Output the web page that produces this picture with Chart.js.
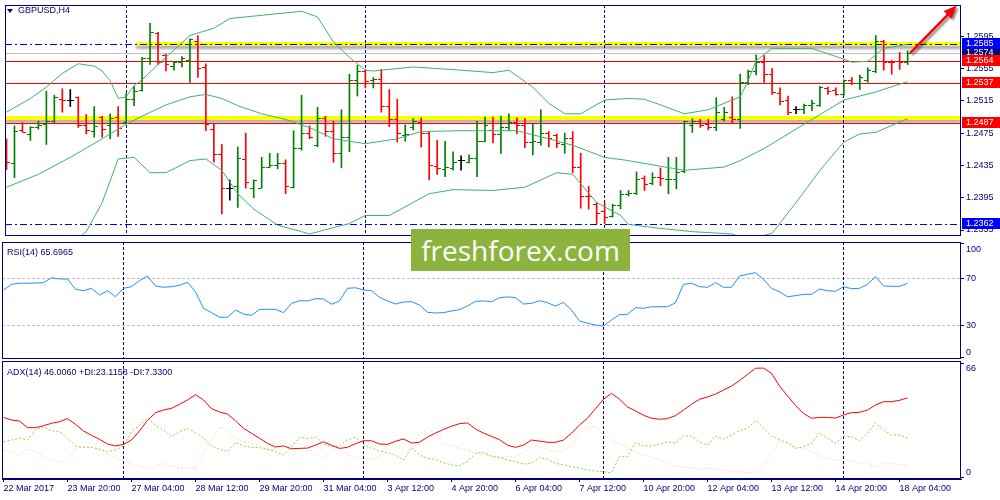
<!DOCTYPE html>
<html><head><meta charset="utf-8">
<script src="https://cdn.jsdelivr.net/npm/chart.js@4.4.1/dist/chart.umd.min.js"></script>
<style>
html,body{margin:0;padding:0;background:#fff;}
body{width:1000px;height:500px;position:relative;overflow:hidden;}
canvas{position:absolute;left:0;}
.t{position:absolute;font-family:"Liberation Sans",Arial,sans-serif;font-size:9px;line-height:10px;color:#000080;white-space:nowrap;}
#tri{position:absolute;left:7px;top:9px;width:0;height:0;border-left:3px solid transparent;border-right:3px solid transparent;border-top:4px solid #000080;}
#wm{position:absolute;left:411px;top:229px;width:219px;height:42px;background:#8db33f;color:#fff;font-family:"Open Sans",sans-serif;font-size:28px;line-height:42px;text-align:center;}
</style></head><body>
<canvas id="cMain" width="1000" height="241" style="top:0;width:1000px;height:241px"></canvas>
<canvas id="cRsi" width="1000" height="119" style="top:241px;width:1000px;height:119px"></canvas>
<canvas id="cAdx" width="1000" height="139" style="top:361px;width:1000px;height:139px"></canvas>
<div id="tri"></div>
<div class="t" style="left:18px;top:5px">GBPUSD,H4</div>
<div class="t" style="left:7px;top:247px">RSI(14) 65.6965</div>
<div class="t" style="left:7px;top:367px">ADX(14) 46.0060 +DI:23.1158 -DI:7.3300</div>
<div id="wm">freshforex.com</div>
<script>
// ---------------- DATA ----------------
const xTickIndex = [0, 8, 16, 24, 32, 40, 48, 56, 64, 72, 80, 88, 96, 104, 112];
const xTickLabels = ['22 Mar 2017','23 Mar 20:00','27 Mar 04:00','28 Mar 12:00','29 Mar 20:00','31 Mar 04:00','3 Apr 12:00','4 Apr 20:00','6 Apr 04:00','7 Apr 12:00','10 Apr 20:00','12 Apr 04:00','13 Apr 12:00','14 Apr 20:00','18 Apr 04:00'];
const weekSeparators = [15, 45, 75, 105];

const opens = [1.2462,1.2438,1.2478,1.2473,1.2482,1.2486,1.2490,1.2517,1.2516,1.2519,
1.2484,1.2477,1.2494,1.2485,1.2495,1.2488,1.2517,1.2528,1.2567,1.2599,
1.2571,1.2557,1.2563,1.2565,1.2589,1.2556,1.2480,1.2449,1.2406,1.2409,
1.2442,1.2407,1.2407,1.2433,1.2435,1.2437,1.2408,1.2456,1.2474,1.2460,
1.2493,1.2477,1.2450,1.2469,1.2540,1.2552,1.2540,1.2542,1.2508,1.2492,
1.2472,1.2482,1.2488,1.2474,1.2434,1.2430,1.2431,1.2441,1.2439,1.2444,
1.2465,1.2478,1.2473,1.2482,1.2488,1.2485,1.2463,1.2464,1.2475,1.2472,
1.2461,1.2468,1.2432,1.2397,1.2386,1.2378,1.2372,1.2385,1.2399,1.2400,
1.2419,1.2413,1.2420,1.2417,1.2418,1.2427,1.2485,1.2490,1.2486,1.2482,
1.2492,1.2494,1.2492,1.2538,1.2552,1.2563,1.2548,1.2524,1.2516,1.2504,
1.2504,1.2509,1.2509,1.2530,1.2528,1.2523,1.2540,1.2536,1.2540,1.2552,
1.2588,1.2563,1.2564,1.2562];
const highs = [1.2468,1.2484,1.2488,1.2483,1.2490,1.2527,1.2522,1.2530,1.2529,1.2520,
1.2498,1.2508,1.2496,1.2499,1.2508,1.2524,1.2533,1.2569,1.2611,1.2600,
1.2573,1.2563,1.2570,1.2592,1.2596,1.2561,1.2486,1.2461,1.2417,1.2458,
1.2475,1.2417,1.2445,1.2450,1.2450,1.2442,1.2478,1.2522,1.2484,1.2507,
1.2496,1.2490,1.2504,1.2548,1.2559,1.2554,1.2544,1.2554,1.2529,1.2517,
1.2485,1.2493,1.2494,1.2477,1.2466,1.2465,1.2452,1.2447,1.2448,1.2490,
1.2495,1.2495,1.2496,1.2499,1.2494,1.2493,1.2486,1.2504,1.2477,1.2474,
1.2475,1.2477,1.2450,1.2409,1.2389,1.2389,1.2387,1.2404,1.2404,1.2427,
1.2422,1.2426,1.2432,1.2445,1.2445,1.2490,1.2493,1.2492,1.2492,1.2519,
1.2507,1.2520,1.2548,1.2553,1.2572,1.2571,1.2555,1.2531,1.2521,1.2508,
1.2511,1.2516,1.2533,1.2532,1.2531,1.2541,1.2544,1.2547,1.2556,1.2596,
1.2590,1.2565,1.2575,1.2577];
const lows = [1.2430,1.2420,1.2476,1.2466,1.2480,1.2461,1.2488,1.2501,1.2508,1.2482,
1.2474,1.2470,1.2470,1.2468,1.2471,1.2487,1.2509,1.2527,1.2560,1.2560,
1.2552,1.2553,1.2557,1.2538,1.2544,1.2478,1.2439,1.2375,1.2392,1.2383,
1.2407,1.2395,1.2407,1.2432,1.2431,1.2400,1.2407,1.2454,1.2468,1.2458,
1.2471,1.2439,1.2432,1.2452,1.2521,1.2531,1.2531,1.2501,1.2483,1.2464,
1.2465,1.2479,1.2458,1.2417,1.2424,1.2421,1.2429,1.2429,1.2438,1.2421,
1.2464,1.2463,1.2450,1.2478,1.2474,1.2457,1.2448,1.2460,1.2458,1.2457,
1.2450,1.2426,1.2382,1.2381,1.2363,1.2363,1.2371,1.2381,1.2397,1.2399,
1.2404,1.2411,1.2410,1.2400,1.2406,1.2426,1.2476,1.2482,1.2479,1.2478,
1.2490,1.2488,1.2481,1.2535,1.2547,1.2538,1.2523,1.2510,1.2498,1.2499,
1.2499,1.2503,1.2508,1.2523,1.2522,1.2522,1.2535,1.2529,1.2538,1.2550,
1.2553,1.2548,1.2554,1.2560];
const closes = [1.2439,1.2477,1.2476,1.2482,1.2485,1.2489,1.2519,1.2516,1.2516,1.2485,
1.2478,1.2483,1.2480,1.2493,1.2481,1.2517,1.2527,1.2568,1.2600,1.2563,
1.2560,1.2562,1.2568,1.2591,1.2555,1.2486,1.2449,1.2406,1.2406,1.2444,
1.2414,1.2416,1.2433,1.2435,1.2437,1.2409,1.2456,1.2474,1.2470,1.2493,
1.2477,1.2450,1.2469,1.2540,1.2552,1.2539,1.2541,1.2508,1.2492,1.2475,
1.2473,1.2490,1.2474,1.2435,1.2431,1.2432,1.2439,1.2441,1.2443,1.2465,
1.2484,1.2473,1.2482,1.2488,1.2485,1.2463,1.2465,1.2475,1.2468,1.2462,
1.2468,1.2432,1.2397,1.2396,1.2375,1.2371,1.2385,1.2399,1.2400,1.2418,
1.2412,1.2420,1.2419,1.2418,1.2426,1.2490,1.2490,1.2484,1.2482,1.2501,
1.2501,1.2492,1.2538,1.2552,1.2563,1.2548,1.2525,1.2514,1.2500,1.2504,
1.2509,1.2512,1.2531,1.2526,1.2523,1.2540,1.2537,1.2544,1.2553,1.2588,
1.2563,1.2562,1.2562,1.2574];

const bbUpperIdx = [0,3,5,7,9,11,12,13,14,15,16,17,19,21,23,26,28,32,37,39,41,43,45,46,51,57,61,63,66,68,70,72,75,78,80,82,85,88,92,93,94,96,101,104,106,108,110,113];
const bbUpper = [1.2501,1.2518,1.2532,1.2549,1.2561,1.2558,1.2552,1.2540,1.2518,1.2520,1.2534,1.2541,1.2560,1.2578,1.2596,1.2605,1.2617,1.2621,1.2626,1.2619,1.2588,1.2569,1.2553,1.2552,1.2557,1.2553,1.2550,1.2553,1.2532,1.2512,1.2499,1.2499,1.2516,1.2518,1.2517,1.2510,1.2499,1.2504,1.2520,1.2540,1.2565,1.2580,1.2580,1.2570,1.2563,1.2564,1.2580,1.2585];
const bbMiddleIdx = [0,4,8,12,15,17,20,23,25,27,29,32,35,38,41,45,49,52,57,64,68,71,75,78,82,85,90,92,95,99,102,105,109,113];
const bbMiddle = [1.2408,1.2424,1.2445,1.2468,1.2486,1.2496,1.2510,1.2520,1.2523,1.2518,1.2509,1.2499,1.2492,1.2482,1.2468,1.2462,1.2468,1.2477,1.2478,1.2478,1.2468,1.2460,1.2445,1.2441,1.2434,1.2429,1.2433,1.2441,1.2456,1.2480,1.2498,1.2516,1.2526,1.2539];
const bbLowerIdx = [0,5,8,10,12,14,16,18,20,23,25,27,29,31,34,37,38,41,43,45,48,53,56,61,65,69,71,74,77,78,82,86,91,93,96,99,102,105,107,109,113];
const bbLower = [1.2316,1.2330,1.2336,1.2353,1.2389,1.2443,1.2445,1.2426,1.2426,1.2441,1.2443,1.2429,1.2400,1.2381,1.2361,1.2353,1.2350,1.2358,1.2363,1.2373,1.2373,1.2400,1.2405,1.2404,1.2408,1.2426,1.2424,1.2389,1.2373,1.2362,1.2357,1.2353,1.2350,1.2343,1.2351,1.2389,1.2429,1.2464,1.2474,1.2476,1.2493];

const rsi = [60.1,64.9,65.8,65.8,66.0,66.3,70.5,69.4,69.4,60.7,
59.5,61.5,55.8,59.5,54.4,61.5,62.9,68.0,71.9,63.5,
62.4,62.9,64.1,66.6,58.6,44.6,40.9,37.0,37.0,43.1,
39.7,38.6,43.7,43.7,43.7,40.9,48.8,51.0,50.8,52.7,
52.5,48.0,50.8,61.5,62.0,60.1,59.5,53.9,50.8,48.2,
49.9,50.2,47.4,41.2,40.6,40.9,42.3,43.4,46.5,50.5,
50.8,50.2,53.6,54.2,53.6,48.2,48.8,51.0,49.3,46.5,
49.6,43.1,33.8,31.9,30.4,29.6,34.7,39.2,39.5,45.1,
44.6,45.9,45.9,45.9,49.3,64.9,65.8,62.9,62.4,66.3,
62.4,62.4,71.9,73.4,74.8,69.1,61.5,58.6,54.4,55.3,
56.4,56.4,60.9,59.5,59.0,62.9,61.2,61.5,64.9,71.4,
63.5,63.2,63.2,65.7];

const adx = [34.8,33.3,32.7,28.9,28.9,30.0,31.4,32.3,34.1,30.8,
27.0,24.5,22.2,19.5,18.4,19.3,21.8,27.0,33.1,37.5,
39.0,40.0,42.3,44.8,47.8,44.8,39.8,37.9,36.7,32.9,
28.5,25.7,22.8,19.9,17.8,18.4,16.8,17.0,17.2,18.9,
20.8,18.8,17.0,17.6,19.7,21.4,21.4,19.5,19.3,21.1,
22.4,20.1,20.5,23.5,25.8,27.9,29.7,31.2,31.6,28.1,
25.8,23.9,22.0,18.8,17.6,18.9,21.8,21.2,20.5,20.5,
21.8,25.7,30.4,34.3,39.8,45.2,48.6,45.2,40.8,38.5,
36.0,34.3,33.7,34.1,35.8,39.0,42.3,45.2,46.5,48.2,
50.5,52.8,55.9,59.5,63.0,63.1,60.1,52.8,47.1,41.7,
37.1,34.3,34.8,34.8,34.4,36.2,37.5,37.7,39.0,41.9,
43.8,43.8,44.6,46.0];
const plusDI = [20.8,21.8,22.8,21.8,27.6,29.4,27.2,26.6,22.8,18.4,
17.6,17.6,16.5,15.1,16.1,18.4,26.6,30.4,34.3,30.4,
27.6,23.7,26.6,28.5,26.0,22.8,18.4,16.5,15.1,20.3,
18.4,17.6,17.4,16.5,15.1,13.2,18.0,23.4,22.8,23.4,
19.5,18.0,18.4,21.8,23.4,19.3,17.0,15.7,14.5,13.2,
10.3,17.6,13.2,11.3,10.7,8.8,7.5,6.9,9.4,14.2,
14.8,12.6,11.9,10.3,9.4,8.0,8.4,11.9,10.7,8.4,
7.5,6.5,5.6,4.6,4.0,3.6,3.0,12.2,12.2,20.3,
18.4,18.4,19.5,20.8,19.9,24.1,24.1,20.8,18.9,24.1,
22.2,24.7,27.2,28.5,32.9,28.9,24.1,21.8,20.3,17.0,
18.0,19.9,26.0,22.8,19.9,24.1,23.7,21.4,25.7,31.7,
27.6,24.7,24.7,23.1];
const minusDI = [16.1,14.5,13.2,16.5,15.1,12.6,10.7,9.4,9.4,17.0,
18.0,17.6,16.1,13.2,11.3,9.8,8.0,6.9,5.6,6.1,
8.4,6.9,5.9,5.6,5.6,14.2,21.8,29.4,27.6,22.4,
20.8,19.9,18.9,16.1,17.0,21.8,18.9,20.3,17.0,14.2,
11.3,15.1,17.6,13.2,11.9,10.7,10.7,12.6,18.4,20.8,
22.2,19.9,24.7,28.5,25.3,19.9,18.4,17.0,16.1,14.2,
13.8,12.2,11.1,12.2,12.2,14.5,18.4,17.6,16.5,15.1,
15.7,18.4,25.7,28.5,29.9,24.7,21.8,19.9,17.0,15.1,
13.2,12.2,10.3,8.8,6.9,6.1,5.6,5.0,5.6,5.0,
4.6,3.6,3.6,3.0,3.6,6.5,14.2,20.3,19.9,17.6,
17.0,15.1,12.6,11.3,10.3,10.3,9.9,8.8,8.4,6.1,
8.8,8.4,7.5,7.3];

const priceTicks = [1.2595, 1.2555, 1.2515, 1.2475, 1.2435, 1.2395, 1.2355];
const rsiTicks = [100, 70, 30, 0];
const rsiLevels = [70, 30];
const adxTicks = [66, 0];
const redLevels = [1.2564, 1.2537, 1.2487];
const blueLevels = [1.2585, 1.2362];
const bidPrice = [1.2574];
const zoneLevels = [1.2586, 1.2494];
const zoneStartIdx = [16.25, -0.1875];
const arrowFrom = [113.4, 1.2575];
const arrowTo = [119.15, 1.2633];

// ---------------- STYLE / SETUP ----------------
const NAVY = '#000080', UP = '#008000', DN = '#ff0000', DOJI = '#000000', BB = '#3cb371';
const FONT = '9px "Liberation Sans", Arial, sans-serif';
const X_MIN = -0.1875, X_MAX = 119.6875;
const P_MAX = 1.263377, P_MIN = 1.234758;
const R_MAX = 100.76, R_MIN = 1.61;
const A_MAX = 67.16, A_MIN = -0.57;

function crisp(v){ return Math.round(v - 0.5) + 0.5; }
function makeTick(color, side){
  const c = document.createElement('canvas'); c.width = 7; c.height = 1;
  const g = c.getContext('2d'); g.fillStyle = color;
  if (side === 'L') g.fillRect(0,0,3,1); else g.fillRect(4,0,3,1);
  return c;
}
const barColor = closes.map((c,i)=> c > opens[i] ? UP : (c < opens[i] ? DN : DOJI));
const tickImgs = {};
[UP, DN, DOJI].forEach(c => { tickImgs[c] = {L: makeTick(c,'L'), R: makeTick(c,'R')}; });

function drawSeparators(chart){
  const {ctx, chartArea:a, scales:{x}} = chart;
  ctx.save(); ctx.strokeStyle = NAVY; ctx.lineWidth = 1; ctx.setLineDash([3,2]);
  weekSeparators.forEach(i => {
    const px = crisp(x.getPixelForValue(i));
    ctx.beginPath(); ctx.moveTo(px, a.top); ctx.lineTo(px, a.bottom); ctx.stroke();
  });
  ctx.restore();
}
function drawBorder(chart){
  const {ctx, chartArea:a} = chart;
  ctx.save(); ctx.strokeStyle = NAVY; ctx.lineWidth = 1;
  ctx.strokeRect(a.left + 0.5, a.top + 0.5, a.right - a.left - 1, a.bottom - a.top - 1);
  ctx.restore();
}
function drawRightLabels(chart, vals, fmt){
  const {ctx, chartArea:a, scales:{y}} = chart;
  ctx.save(); ctx.font = FONT; ctx.fillStyle = NAVY; ctx.textBaseline = 'middle'; ctx.textAlign = 'left';
  ctx.strokeStyle = NAVY; ctx.lineWidth = 1;
  vals.forEach(v => {
    const py = y.getPixelForValue(v);
    const ty = Math.min(Math.max(py, a.top + 1), a.bottom - 2);
    ctx.beginPath(); ctx.moveTo(a.right, crisp(ty)); ctx.lineTo(a.right + 3, crisp(ty)); ctx.stroke();
    const ly = Math.min(Math.max(py, a.top + 8), a.bottom - 6);
    ctx.fillText(fmt(v), a.right + 5, ly);
  });
  ctx.restore();
}
function hLine(ctx, a, py, color, dash){
  ctx.save(); ctx.strokeStyle = color; ctx.lineWidth = 1; ctx.setLineDash(dash || []);
  const yy = crisp(py);
  ctx.beginPath(); ctx.moveTo(a.left, yy); ctx.lineTo(a.right, yy); ctx.stroke();
  ctx.restore();
}

const mainPlugin = {
  id: 'mainDeco',
  beforeDatasetsDraw(chart){
    const {ctx, chartArea:a, scales:{x, y}} = chart;
    ctx.save();
    ctx.beginPath(); ctx.rect(a.left, a.top, a.right - a.left, a.bottom - a.top); ctx.clip();
    zoneLevels.forEach((p, k) => {
      const yy = Math.round(y.getPixelForValue(p));
      const x0 = Math.max(a.left, x.getPixelForValue(zoneStartIdx[k]));
      ctx.save();
      ctx.shadowColor = 'rgba(0,0,0,0.35)'; ctx.shadowBlur = 3; ctx.shadowOffsetY = 3;
      ctx.fillStyle = '#ffff00';
      ctx.fillRect(x0, yy - 2, a.right - x0, 4);
      ctx.restore();
    });
    ctx.restore();
    drawSeparators(chart);
    bidPrice.forEach(p => hLine(ctx, a, y.getPixelForValue(p), '#c0c0c0'));
    redLevels.forEach(p => hLine(ctx, a, y.getPixelForValue(p), '#ff0000'));
    blueLevels.forEach(p => hLine(ctx, a, y.getPixelForValue(p), '#0000ff', [7,3,2,3]));
    ctx.imageSmoothingEnabled = false;
  },
  afterDatasetsDraw(chart){
    const {ctx, scales:{x, y}} = chart;
    ctx.imageSmoothingEnabled = true;
    const x0 = x.getPixelForValue(arrowFrom[0]), y0 = y.getPixelForValue(arrowFrom[1]);
    const x1 = x.getPixelForValue(arrowTo[0]), y1 = y.getPixelForValue(arrowTo[1]);
    const ang = Math.atan2(y1 - y0, x1 - x0);
    const hl = 13, hw = 5.5;
    const bx = x1 - hl * Math.cos(ang), by = y1 - hl * Math.sin(ang);
    ctx.save();
    ctx.shadowColor = 'rgba(0,0,0,0.45)'; ctx.shadowOffsetX = 2; ctx.shadowOffsetY = 2; ctx.shadowBlur = 2;
    ctx.strokeStyle = '#ff0000'; ctx.lineWidth = 2.5; ctx.lineCap = 'round';
    ctx.beginPath(); ctx.moveTo(x0, y0); ctx.lineTo(bx, by); ctx.stroke();
    ctx.fillStyle = '#ff0000';
    ctx.beginPath(); ctx.moveTo(x1, y1);
    ctx.lineTo(bx + hw * Math.sin(ang), by - hw * Math.cos(ang));
    ctx.lineTo(bx - hw * Math.sin(ang), by + hw * Math.cos(ang));
    ctx.closePath(); ctx.fill();
    ctx.restore();
  },
  afterDraw(chart){
    const {ctx, chartArea:a, scales:{y}} = chart;
    drawBorder(chart);
    drawRightLabels(chart, priceTicks, v => v.toFixed(4));
    const boxes = [[bidPrice[0], '#0a0a6e'], [blueLevels[0], '#0000ff'], [redLevels[0], '#ff0000'], [redLevels[1], '#ff0000'], [redLevels[2], '#ff0000'], [blueLevels[1], '#0000ff']];
    ctx.save(); ctx.font = FONT; ctx.textBaseline = 'middle'; ctx.textAlign = 'left';
    boxes.forEach(([p, col]) => {
      const yy = Math.round(y.getPixelForValue(p));
      ctx.fillStyle = col; ctx.fillRect(a.right + 1, yy - 6, 1000 - a.right - 1, 11);
      ctx.fillStyle = '#ffffff'; ctx.fillText(p.toFixed(4), a.right + 5, yy);
    });
    ctx.restore();
  }
};

const rsiPlugin = {
  id: 'rsiDeco',
  beforeDatasetsDraw(chart){
    const {ctx, chartArea:a, scales:{y}} = chart;
    rsiLevels.forEach(v => hLine(ctx, a, y.getPixelForValue(v), '#c0c0c0', [3,2]));
    drawSeparators(chart);
  },
  afterDraw(chart){ drawBorder(chart); drawRightLabels(chart, rsiTicks, v => String(v)); }
};
const adxPlugin = {
  id: 'adxDeco',
  beforeDatasetsDraw(chart){ drawSeparators(chart); },
  afterDraw(chart){ drawBorder(chart); drawRightLabels(chart, adxTicks, v => String(v)); }
};

const hiddenX = () => ({ type: 'linear', display: false, min: X_MIN, max: X_MAX, offset: false, grid: { offset: false } });
const baseOpts = (padding, yMin, yMax, xAxis) => ({
  responsive: false, animation: false, events: [], devicePixelRatio: 1,
  layout: { padding },
  plugins: { legend: { display: false }, tooltip: { enabled: false } },
  scales: {
    x: xAxis || hiddenX(),
    y: { type: 'linear', display: false, min: yMin, max: yMax, beginAtZero: false }
  }
});
const pts = (idx, vals) => idx.map((x, k) => ({x, y: vals[k]}));
const seq = vals => vals.map((y, i) => ({x: i, y}));

// Main price chart
new Chart(document.getElementById('cMain'), {
  type: 'line',
  data: { datasets: [
    { data: pts(bbUpperIdx, bbUpper), borderColor: BB, borderWidth: 1, pointRadius: 0, tension: 0 },
    { data: pts(bbMiddleIdx, bbMiddle), borderColor: BB, borderWidth: 1, pointRadius: 0, tension: 0 },
    { data: pts(bbLowerIdx, bbLower), borderColor: BB, borderWidth: 1, pointRadius: 0, tension: 0 },
    { type: 'line', showLine: false, data: seq(opens), pointRadius: 1, pointStyle: c => tickImgs[barColor[c.dataIndex]].L },
    { type: 'line', showLine: false, data: seq(closes), pointRadius: 1, pointStyle: c => tickImgs[barColor[c.dataIndex]].R },
    { type: 'bar', data: highs.map((h, i) => ({x: i, y: [lows[i], h]})), backgroundColor: barColor, barThickness: 1, borderWidth: 0 }
  ]},
  options: baseOpts({left: 2, right: 39, top: 1, bottom: 0}, P_MIN, P_MAX),
  plugins: [mainPlugin]
});

// RSI chart
new Chart(document.getElementById('cRsi'), {
  type: 'line',
  data: { datasets: [
    { data: seq(rsi), borderColor: '#1e90ff', borderWidth: 1, pointRadius: 0, tension: 0 }
  ]},
  options: baseOpts({left: 2, right: 39, top: 1, bottom: 1}, R_MIN, R_MAX),
  plugins: [rsiPlugin]
});

// ADX chart with time axis
new Chart(document.getElementById('cAdx'), {
  type: 'line',
  data: { datasets: [
    { data: seq(adx), borderColor: '#ff0000', borderWidth: 1, pointRadius: 0, tension: 0 },
    { data: seq(plusDI), borderColor: '#9acd32', borderWidth: 1, borderDash: [2,2], pointRadius: 0, tension: 0 },
    { data: seq(minusDI), borderColor: '#f5deb3', borderWidth: 1, borderDash: [2,2], pointRadius: 0, tension: 0 }
  ]},
  options: baseOpts({left: 2, right: 39, top: 0, bottom: 0}, A_MIN, A_MAX, {
    type: 'linear', position: 'bottom', min: X_MIN, max: X_MAX, offset: false,
    afterBuildTicks: s => { s.ticks = xTickIndex.map(v => ({value: v})); },
    afterFit: s => { s.height = 21; },
    ticks: { autoSkip: false, maxRotation: 0, minRotation: 0, align: 'start', padding: 1, color: NAVY,
      font: { family: '"Liberation Sans", Arial, sans-serif', size: 9 },
      callback: (v, i) => xTickLabels[i] },
    grid: { drawOnChartArea: false, drawTicks: true, tickLength: 3, color: NAVY, offset: false },
    border: { display: true, color: NAVY }
  }),
  plugins: [adxPlugin]
});
</script>
</body></html>
